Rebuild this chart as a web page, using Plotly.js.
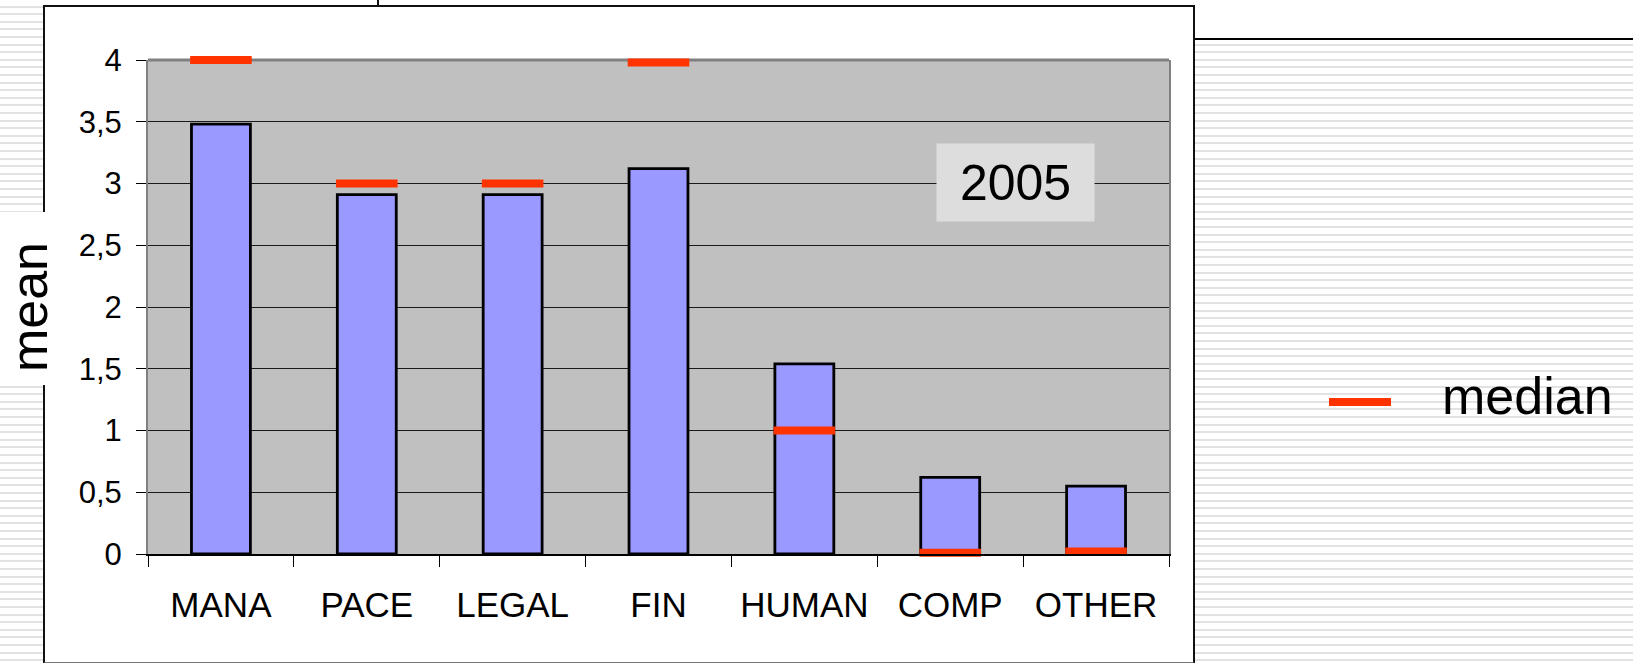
<!DOCTYPE html>
<html>
<head>
<meta charset="utf-8">
<script src="https://cdn.plot.ly/plotly-3.0.1.min.js"></script>
<style>
  html, body { margin: 0; padding: 0; }
  body {
    width: 1633px; height: 663px; position: relative; overflow: hidden;
    background: repeating-linear-gradient(to bottom, #ffffff 0px, #ffffff 5.6px, #e2e2e2 5.6px, #e2e2e2 7.6px);
  }
  .abs { position: absolute; }
  #topband { left: 43px; top: 0; width: 1590px; height: 39px; background: #fff; }
  #headline { left: 1193px; top: 38px; width: 440px; height: 2px; background: #000; }
  #box { left: 43px; top: 5px; width: 1148px; height: 655px; background: #fff; border: 2px solid #111; border-bottom-color: #777; }
  #tick { left: 377px; top: 0; width: 2px; height: 6px; background: #111; }
  #meanbox { left: 0; top: 212px; width: 47px; height: 173px; background: #fff; }
  #chart { left: 0; top: 0; width: 1633px; height: 663px; }
</style>
</head>
<body>
<div id="topband" class="abs"></div>
<div id="headline" class="abs"></div>
<div id="box" class="abs"></div>
<div id="tick" class="abs"></div>
<div id="meanbox" class="abs"></div>
<div id="chart" class="abs"></div>
<script>
const categories = ['MANA', 'PACE', 'LEGAL', 'FIN', 'HUMAN', 'COMP', 'OTHER'];
const meanValues = [3.48, 2.91, 2.91, 3.12, 1.54, 0.62, 0.55];
const medianValues = [4, 3, 3, 3.98, 1.0, 0.01, 0.02];
const yTickVals = [0, 0.5, 1, 1.5, 2, 2.5, 3, 3.5, 4];
const yTitle = 'mean';
const legendLabel = 'median';
const yearLabel = '2005';

const FONT = 'Liberation Sans, Arial, sans-serif';
const MEDIAN_COLOR = '#ff3300';

const traces = [
  {
    type: 'bar',
    x: categories,
    y: meanValues,
    name: yTitle,
    marker: { color: '#9999ff', line: { color: '#000000', width: 2.8 } },
    showlegend: false,
    hoverinfo: 'x+y'
  },
  {
    type: 'scatter',
    mode: 'markers',
    x: categories,
    y: medianValues,
    name: legendLabel,
    cliponaxis: false,
    marker: { symbol: 'line-ew', size: 44, color: MEDIAN_COLOR, line: { color: MEDIAN_COLOR, width: 8 } },
    showlegend: false
  }
];

// plot area: x 148..1169, y 60..554 (px)
const W = 1633, H = 663, L = 148, R = 1169, T = 60, B = 554;
const px2x = p => (p - L) / (R - L);
const px2y = p => (B - p) / (B - T);

const layout = {
  width: W, height: H,
  margin: { l: L, r: W - R, t: T, b: H - B, pad: 0 },
  paper_bgcolor: 'rgba(0,0,0,0)',
  plot_bgcolor: '#c0c0c0',
  separators: ', ',
  bargap: 0.596,
  showlegend: false,
  font: { family: FONT, color: '#000' },
  xaxis: {
    type: 'category',
    range: [-0.5, categories.length - 0.5],
    showline: true, linecolor: '#000', linewidth: 1.5,
    ticks: 'outside', ticklen: 11, tickwidth: 1, tickcolor: '#000',
    tickson: 'boundaries',
    showgrid: false,
    ticklabelstandoff: 19,
    tickfont: { family: FONT, size: 35, color: '#000' },
    fixedrange: true
  },
  yaxis: {
    range: [0, 4],
    tickvals: yTickVals,
    showline: true, linecolor: '#808080', linewidth: 2, mirror: true,
    ticks: 'outside', ticklen: 10, tickwidth: 1, tickcolor: '#000',
    showgrid: true, gridcolor: '#1a1a1a', gridwidth: 1,
    zeroline: false,
    ticklabelstandoff: 8,
    tickfont: { family: FONT, size: 31, color: '#000' },
    title: { text: yTitle, font: { family: FONT, size: 52, color: '#000' }, standoff: 23 },
    fixedrange: true
  },
  shapes: [
    { type: 'line', xref: 'paper', yref: 'paper', x0: 0, x1: 1, y0: 1, y1: 1,
      line: { color: '#808080', width: 3 }, layer: 'below' },
    { type: 'line', xref: 'paper', yref: 'paper', x0: px2x(1329), x1: px2x(1391), y0: px2y(402), y1: px2y(402),
      line: { color: MEDIAN_COLOR, width: 8 } }
  ],
  annotations: [
    { text: yearLabel, xref: 'paper', yref: 'paper', x: px2x(1015), y: px2y(182.5),
      xanchor: 'center', yanchor: 'middle', showarrow: false,
      bgcolor: '#dddddd', width: 157, height: 77, borderpad: 0,
      font: { family: FONT, size: 50, color: '#000' } },
    { text: legendLabel, xref: 'paper', yref: 'paper', x: px2x(1440), y: px2y(396),
      xanchor: 'left', yanchor: 'middle', showarrow: false,
      font: { family: FONT, size: 52, color: '#000' } }
  ]
};

Plotly.newPlot('chart', traces, layout, { staticPlot: true, displayModeBar: false });
</script>
</body>
</html>
